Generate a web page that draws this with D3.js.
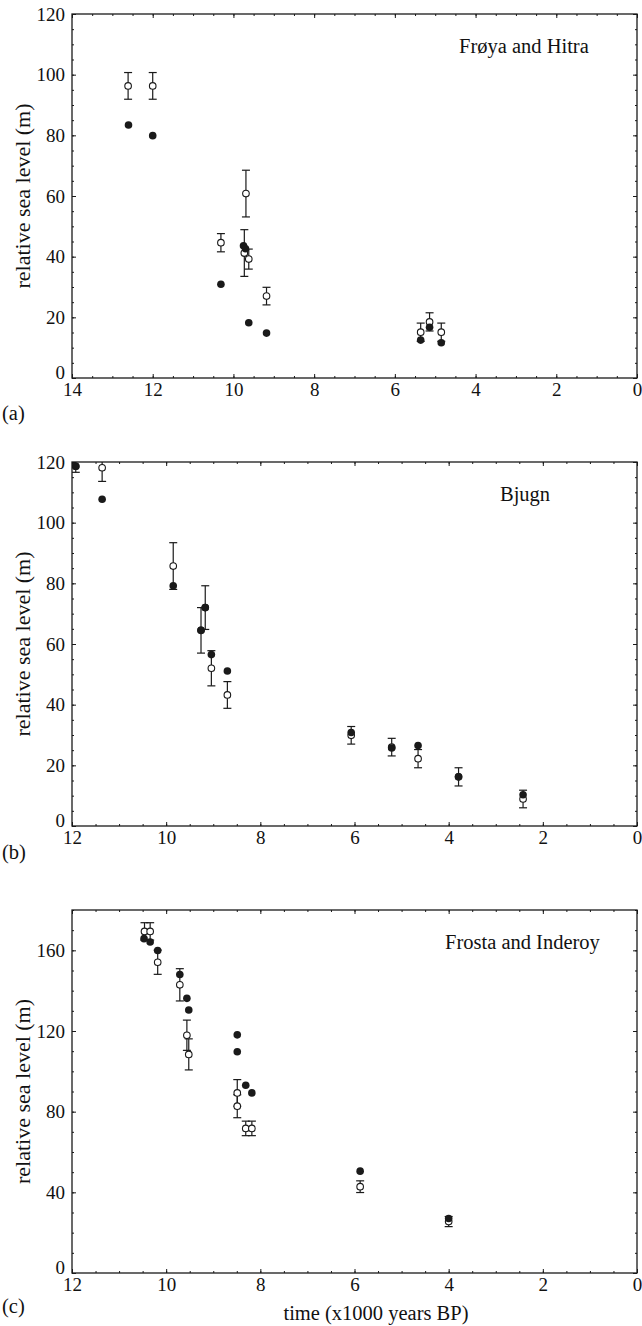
<!DOCTYPE html>
<html>
<head>
<meta charset="utf-8">
<script src="https://cdnjs.cloudflare.com/ajax/libs/d3/7.8.5/d3.min.js"></script>
<style>
	body { margin: 0; background: #fff; }
	text { font-family: "Liberation Serif", "Times New Roman", serif; fill: #111; }
</style>
</head>
<body>
<script>
// panel (a) Frøya and Hitra  -- age in 1000 years BP, sea level in m
var ageA_open = [12.61, 12.0, 10.31, 9.69, 9.73, 9.62, 9.18, 5.36, 5.14, 4.85];
var rslA_open = [96.3, 96.3, 44.6, 60.8, 41.2, 39.2, 27.0, 15.1, 18.5, 15.1];
var errA_open = [4.4, 4.4, 3.0, 7.7, 7.7, 3.3, 2.9, 3.0, 3.0, 3.0];
var ageA_fill = [12.6, 12.0, 10.31, 9.75, 9.70, 9.62, 9.18, 5.36, 5.14, 4.85];
var rslA_fill = [83.4, 79.9, 30.9, 43.6, 42.6, 18.2, 14.8, 12.5, 16.7, 11.6];

// panel (b) Bjugn
var ageB_open = [11.92, 11.36, 9.85, 9.26, 9.17, 9.04, 8.70, 6.07, 5.21, 4.65, 3.79, 2.42];
var rslB_open = [118.6, 118.1, 85.7, 64.5, 72.0, 52.0, 43.2, 29.9, 26.0, 22.2, 16.2, 8.9];
var errB_open = [2.0, 4.5, 7.7, 7.5, 7.2, 5.8, 4.4, 2.9, 2.9, 3.0, 3.0, 2.9];
var ageB_fill = [11.92, 11.36, 9.85, 9.26, 9.17, 9.04, 8.70, 6.07, 5.21, 4.65, 3.79, 2.42];
var rslB_fill = [118.6, 107.7, 79.2, 64.5, 72.0, 56.5, 51.1, 30.8, 25.7, 26.5, 16.2, 10.3];

// panel (c) Frosta and Inderoy
var ageC_open = [10.46, 10.34, 10.18, 9.71, 9.56, 9.52, 8.49, 8.49, 8.31, 8.18, 5.88, 4.0];
var rslC_open = [169.4, 169.4, 154.1, 142.9, 117.9, 108.4, 89.3, 82.7, 71.7, 71.7, 42.8, 25.5];
var errC_open = [4.3, 4.3, 6.0, 8.0, 7.5, 7.7, 6.6, 5.7, 3.6, 3.6, 2.9, 2.5];
var ageC_fill = [10.47, 10.34, 10.18, 9.71, 9.56, 9.52, 8.49, 8.49, 8.31, 8.18, 5.88, 4.0];
var rslC_fill = [165.8, 164.1, 159.9, 148.0, 136.2, 130.4, 118.1, 109.7, 93.1, 89.3, 50.5, 27.0];

// tick labels
var xTicksA = [14, 12, 10, 8, 6, 4, 2, 0];
var xTicksBC = [12, 10, 8, 6, 4, 2, 0];
var yTicksAB = [0, 20, 40, 60, 80, 100, 120];
var yTicksC = [0, 40, 80, 120, 160];

var siteNames = ["Frøya and Hitra", "Bjugn", "Frosta and Inderoy"];
var panelTags = ["(a)", "(b)", "(c)"];
var yTitle = "relative sea level (m)";
var xTitle = "time (x1000 years BP)";

function zip(ages, rsl, err) {
	return ages.map(function(d, i) {
		return { age: d, rsl: rsl[i], err: err ? err[i] : 0 };
	});
}

var panels = [
	{ open: zip(ageA_open, rslA_open, errA_open), fill: zip(ageA_fill, rslA_fill),
		xMax: 14, yMax: 120, xTicks: xTicksA, yTicks: yTicksAB, xMinor: 0.5, yMinor: 5,
		top: 14, bottom: 378, nameX: 387, tagY: 420 },
	{ open: zip(ageB_open, rslB_open, errB_open), fill: zip(ageB_fill, rslB_fill),
		xMax: 12, yMax: 120, xTicks: xTicksBC, yTicks: yTicksAB, xMinor: 0.5, yMinor: 5,
		top: 462, bottom: 826, nameX: 428, tagY: 859 },
	{ open: zip(ageC_open, rslC_open, errC_open), fill: zip(ageC_fill, rslC_fill),
		xMax: 12, yMax: 180, xTicks: xTicksBC, yTicks: yTicksC, xMinor: 0.5, yMinor: 10,
		top: 910, bottom: 1273, nameX: 373, tagY: 1313 }
];

var left = 72, right = 637;
var ink = "#1a1a1a";

var svg = d3.select("body").append("svg")
	.attr("width", 642)
	.attr("height", 1326);

panels.forEach(function(p, k) {
	var width = right - left,
		height = p.bottom - p.top;

	var x = d3.scaleLinear().domain([p.xMax, 0]).range([0, width]);
	var y = d3.scaleLinear().domain([0, p.yMax]).range([height, 0]);

	var g = svg.append("g")
		.attr("transform", "translate(" + left + "," + p.top + ")");

	g.append("clipPath")
		.attr("id", "clip" + k)
		.append("rect")
		.attr("width", width)
		.attr("height", height);

	var xMinor = d3.range(0, p.xMax + 0.001, p.xMinor);
	var yMinor = d3.range(0, p.yMax + 0.001, p.yMinor);

	// minor ticks on all four sides, pointing inward
	g.append("g").attr("transform", "translate(0," + height + ")")
		.call(d3.axisBottom(x).tickValues(xMinor).tickSize(-2).tickFormat(""));
	g.append("g")
		.call(d3.axisTop(x).tickValues(xMinor).tickSize(-2).tickFormat(""));
	g.append("g")
		.call(d3.axisLeft(y).tickValues(yMinor).tickSize(-2).tickFormat(""));
	g.append("g").attr("transform", "translate(" + width + ",0)")
		.call(d3.axisRight(y).tickValues(yMinor).tickSize(-2).tickFormat(""));

	// major ticks
	g.append("g").attr("class", "xaxis").attr("transform", "translate(0," + height + ")")
		.call(d3.axisBottom(x).tickValues(p.xTicks).tickSizeInner(-4).tickSizeOuter(0)
			.tickPadding(5).tickFormat(d3.format("d")));
	g.append("g")
		.call(d3.axisTop(x).tickValues(p.xTicks).tickSize(-4).tickFormat(""));
	g.append("g").attr("class", "yaxis")
		.call(d3.axisLeft(y).tickValues(p.yTicks).tickSizeInner(-4).tickSizeOuter(0)
			.tickPadding(7).tickFormat(d3.format("d")));
	g.append("g").attr("transform", "translate(" + width + ",0)")
		.call(d3.axisRight(y).tickValues(p.yTicks).tickSize(-4).tickFormat(""));

	g.selectAll(".domain").remove();
	g.selectAll(".tick line").attr("stroke", ink).attr("stroke-width", 1);
	g.selectAll(".tick text")
		.style("font-family", "'Liberation Serif', serif")
		.style("font-size", "19px")
		.attr("fill", ink);

	// the 0 on the y axis sits on the corner
	g.select(".yaxis").selectAll(".tick text")
		.filter(function(d) { return d === 0; })
		.attr("dy", "0em");

	// frame
	g.append("rect")
		.attr("width", width)
		.attr("height", height)
		.attr("fill", "none")
		.attr("stroke", ink)
		.attr("stroke-width", 1.3);

	var plot = g.append("g").attr("clip-path", "url(#clip" + k + ")");

	// error bars for the open symbols
	var bars = plot.selectAll(".err")
		.data(p.open)
		.enter().append("g")
		.attr("class", "err")
		.attr("stroke", ink)
		.attr("stroke-width", 1.2);

	bars.append("line")
		.attr("x1", function(d) { return x(d.age); })
		.attr("x2", function(d) { return x(d.age); })
		.attr("y1", function(d) { return y(d.rsl + d.err); })
		.attr("y2", function(d) { return y(d.rsl - d.err); });
	bars.append("line")
		.attr("x1", function(d) { return x(d.age) - 4; })
		.attr("x2", function(d) { return x(d.age) + 4; })
		.attr("y1", function(d) { return y(d.rsl + d.err); })
		.attr("y2", function(d) { return y(d.rsl + d.err); });
	bars.append("line")
		.attr("x1", function(d) { return x(d.age) - 4; })
		.attr("x2", function(d) { return x(d.age) + 4; })
		.attr("y1", function(d) { return y(d.rsl - d.err); })
		.attr("y2", function(d) { return y(d.rsl - d.err); });

	plot.selectAll(".open")
		.data(p.open)
		.enter().append("circle")
		.attr("class", "open")
		.attr("cx", function(d) { return x(d.age); })
		.attr("cy", function(d) { return y(d.rsl); })
		.attr("r", 3.3)
		.attr("fill", "#fff")
		.attr("stroke", ink)
		.attr("stroke-width", 1.1);

	plot.selectAll(".fill")
		.data(p.fill)
		.enter().append("circle")
		.attr("class", "fill")
		.attr("cx", function(d) { return x(d.age); })
		.attr("cy", function(d) { return y(d.rsl); })
		.attr("r", 3.8)
		.attr("fill", ink);

	// site name
	g.append("text")
		.attr("x", p.nameX)
		.attr("y", 39)
		.style("font-size", "20.5px")
		.text(siteNames[k]);

	// y title
	svg.append("text")
		.attr("transform", "translate(30," + (p.top + height / 2) + ")rotate(-90)")
		.attr("text-anchor", "middle")
		.style("font-size", "22px")
		.text(yTitle);

	// panel tag
	svg.append("text")
		.attr("x", 2)
		.attr("y", p.tagY)
		.style("font-size", "20.5px")
		.text(panelTags[k]);
});

// x title only under the last panel
svg.append("text")
	.attr("x", 376)
	.attr("y", 1320)
	.attr("text-anchor", "middle")
	.style("font-size", "20.5px")
	.text(xTitle);
</script>
</body>
</html>
